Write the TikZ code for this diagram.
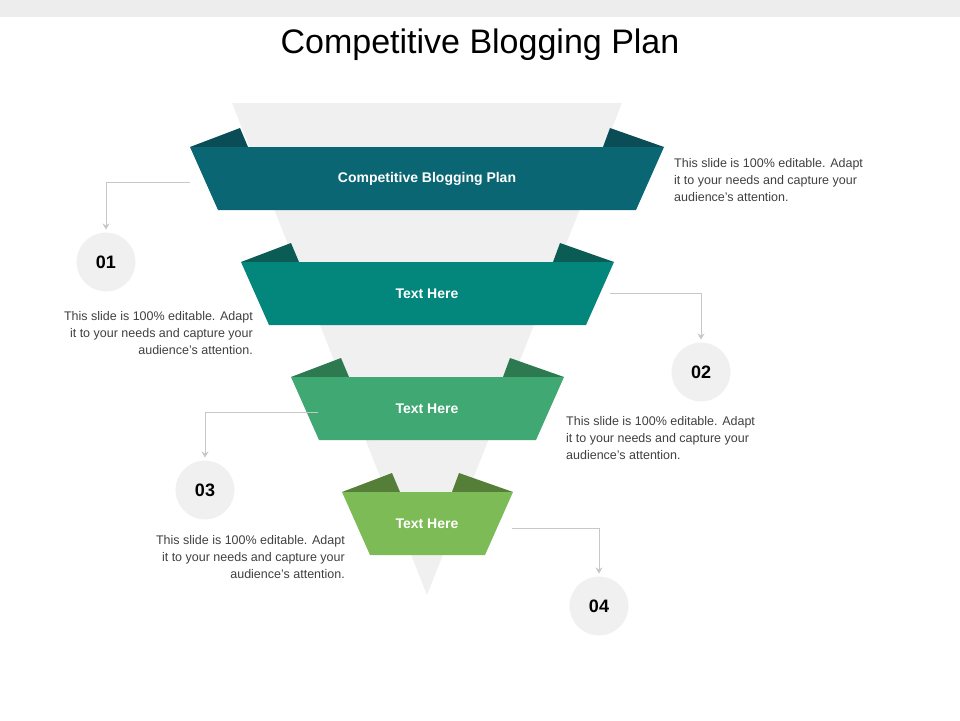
\documentclass[tikz,border=0pt]{standalone}
\usepackage{fontspec}
\setmainfont{Liberation Sans}
\usetikzlibrary{arrows.meta}
\begin{document}
\begin{tikzpicture}[x=1pt,y=-1pt,
 desc/.style={font=\fontsize{12.5}{17}\selectfont,text=black!75,inner sep=0pt},
 circ/.style={circle,minimum size=62pt,fill=black!6,draw=white,line width=3pt,font=\fontsize{18}{20}\selectfont\bfseries},
 conn/.style={draw=black!22,line width=0.8pt,-{Stealth[length=6pt,width=7pt]}},
 band/.style={font=\fontsize{14}{16}\selectfont\bfseries,text=white}]
\useasboundingbox (0,0) rectangle (960,720);
\fill[black!7] (0,0) rectangle (960,17);
\node[font=\fontsize{34}{40}\selectfont] (title) at (480,45) {Competitive Blogging Plan};
\fill[black!6] (232,103) -- (622,103) -- (427,595) -- cycle;
% bands
\def\band#1#2#3#4#5#6{%
 \fill[#5] (#1,#3) -- (#1+50,#3-19) -- (#1+58,#3) -- cycle;
 \fill[#5] (#2,#3) -- (#2-54,#3-19) -- (#2-61,#3) -- cycle;
 \fill[#6] (#1,#3) -- (#2,#3) -- (#2-28,#3+63) -- (#1+28,#3+63) -- cycle;}
\definecolor{b1}{HTML}{0B6673}\definecolor{t1}{HTML}{0A4D57}
\definecolor{b2}{HTML}{03867C}\definecolor{t2}{HTML}{0A5C55}
\definecolor{b3}{HTML}{40A872}\definecolor{t3}{HTML}{2D7A50}
\definecolor{b4}{HTML}{7CBB55}\definecolor{t4}{HTML}{557F38}
\band{190}{664}{147}{}{t1}{b1}
\band{241}{614}{262}{}{t2}{b2}
\band{291}{564}{377}{}{t3}{b3}
\band{342}{513}{492}{}{t4}{b4}
\node[band] (l1) at (427,179) {Competitive Blogging Plan};
\node[band] (l2) at (427,294) {Text Here};
\node[band] (l3) at (427,409) {Text Here};
\node[band] (l4) at (427,524) {Text Here};
\coordinate (s1) at (190,182); \coordinate (s2) at (610,293);
\coordinate (s3) at (318,412); \coordinate (s4) at (512,528);
\node[circ] (c1) at (106,262) {01};
\node[circ] (c2) at (701,372) {02};
\node[circ] (c3) at (205,490) {03};
\node[circ] (c4) at (599,606) {04};
\draw[conn] (s1) -| (c1.north);
\draw[conn] (s2) -| (c2.north);
\draw[conn] (s3) -| (c3.north);
\draw[conn] (s4) -| (c4.north);
\node[desc,anchor=north west,align=left] (d1) at (674,158) {This slide is 100\% editable. Adapt\\it to your needs and capture your\\audience's attention.};
\node[desc,anchor=north east,align=right] (d2) at (253,311) {This slide is 100\% editable. Adapt\\it to your needs and capture your\\audience's attention.};
\node[desc,anchor=north west,align=left] (d3) at (566,416) {This slide is 100\% editable. Adapt\\it to your needs and capture your\\audience's attention.};
\node[desc,anchor=north east,align=right] (d4) at (345,535) {This slide is 100\% editable. Adapt\\it to your needs and capture your\\audience's attention.};
\end{tikzpicture}
\end{document}
